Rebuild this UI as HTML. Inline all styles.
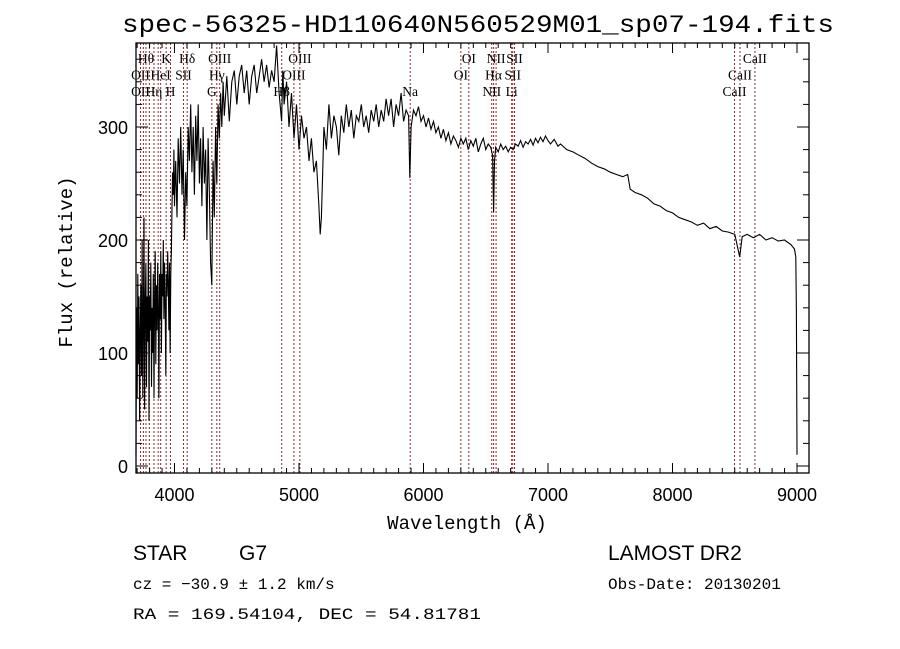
<!DOCTYPE html>
<html><head><meta charset="utf-8"><style>
html,body{margin:0;padding:0;background:#fff;}
svg{display:block;}
text{font-family:"Liberation Serif",serif;fill:#000;}
</style></head><body>
<svg id="chart" width="900" height="649" viewBox="0 0 900 649" xmlns="http://www.w3.org/2000/svg">
<rect width="900" height="649" fill="#fff"/>
<text x="478" y="32" font-size="25" text-anchor="middle" textLength="712" lengthAdjust="spacingAndGlyphs" style="font-family:'Liberation Mono',monospace">spec-56325-HD110640N560529M01_sp07-194.fits</text>
<g id="lines"></g>
<g id="labels"></g>
<path id="spec" fill="none" stroke="#000" stroke-width="1.1"/>
<rect x="136" y="43" width="673" height="430" fill="none" stroke="#000" stroke-width="1.3"/>
<g id="axes"></g>
<text x="467" y="529" font-size="19" text-anchor="middle" style="font-family:'Liberation Mono',monospace">Wavelength (Å)</text>
<text transform="translate(72,262) rotate(-90)" font-size="19" text-anchor="middle" style="font-family:'Liberation Mono',monospace">Flux (relative)</text>
<text x="133" y="560" font-size="21" style="font-family:'Liberation Sans',sans-serif">STAR</text>
<text x="239" y="560" font-size="21" style="font-family:'Liberation Sans',sans-serif">G7</text>
<text x="133" y="589" font-size="16" style="font-family:'Liberation Mono',monospace">cz = −30.9 ± 1.2 km/s</text>
<text x="133" y="619" font-size="16" textLength="348" lengthAdjust="spacingAndGlyphs" style="font-family:'Liberation Mono',monospace">RA = 169.54104, DEC =  54.81781</text>
<text x="608" y="560" font-size="21" style="font-family:'Liberation Sans',sans-serif">LAMOST DR2</text>
<text x="608" y="589" font-size="16" style="font-family:'Liberation Mono',monospace">Obs-Date: 20130201</text>
</svg>
<script>
const wl=[3691,3695,3700,3705,3710,3715,3720,3725,3730,3735,3740,3745,3750,3755,3760,3765,3770,3775,3780,3785,3790,3795,3800,3805,3810,3815,3820,3825,3830,3835,3840,3845,3850,3855,3860,3865,3870,3875,3880,3885,3890,3895,3900,3905,3910,3915,3920,3925,3930,3935,3940,3945,3950,3955,3960,3965,3970,3975,3980,3985,3990,3995,4000,4010,4020,4030,4040,4050,4060,4070,4080,4090,4100,4110,4120,4130,4140,4150,4160,4170,4180,4190,4200,4210,4220,4230,4240,4250,4260,4270,4280,4290,4300,4310,4320,4330,4340,4350,4360,4370,4380,4390,4400,4420,4440,4460,4480,4500,4520,4540,4560,4580,4600,4620,4640,4660,4680,4700,4720,4740,4760,4780,4800,4820,4840,4860,4870,4880,4900,4920,4940,4960,4980,5000,5020,5040,5060,5080,5100,5120,5140,5160,5170,5180,5190,5200,5220,5240,5260,5280,5300,5320,5340,5360,5380,5400,5420,5440,5460,5480,5500,5520,5540,5560,5580,5600,5620,5640,5660,5680,5700,5720,5740,5760,5780,5800,5820,5840,5860,5880,5890,5900,5920,5940,5960,5980,6000,6020,6040,6060,6080,6100,6120,6140,6160,6180,6200,6220,6240,6260,6280,6300,6320,6340,6360,6380,6400,6420,6440,6460,6480,6500,6520,6540,6555,6563,6570,6580,6600,6620,6640,6660,6680,6700,6720,6740,6760,6780,6800,6820,6840,6860,6880,6900,6920,6940,6960,6980,7000,7020,7050,7080,7100,7150,7200,7250,7300,7350,7400,7450,7500,7550,7600,7640,7660,7700,7750,7800,7850,7900,7950,8000,8050,8100,8150,8200,8250,8300,8350,8400,8450,8500,8540,8560,8600,8650,8700,8750,8800,8850,8900,8950,8980,8990,8995,9000];
const flux=[10,140,60,170,90,150,40,120,160,80,200,60,130,220,50,140,180,70,150,110,200,40,150,120,180,70,140,100,170,60,150,190,90,160,120,180,140,60,170,130,190,100,170,150,200,130,180,140,80,170,150,190,160,120,180,100,170,190,230,260,240,280,230,270,220,290,250,300,240,280,200,260,230,300,270,320,260,300,240,310,270,320,250,290,230,300,250,280,200,290,240,180,160,270,220,300,250,320,290,330,300,340,310,345,305,340,350,320,345,355,330,350,320,345,355,330,345,360,340,355,335,350,340,372,330,305,350,320,340,300,330,290,320,280,310,290,300,270,290,260,270,230,205,220,260,300,280,320,290,310,300,275,310,295,320,300,315,290,310,305,320,300,310,295,315,305,320,300,315,305,325,310,325,300,320,310,330,305,315,310,255,300,315,310,318,305,310,300,308,298,305,295,300,290,298,288,295,285,292,288,282,290,285,290,280,288,283,290,278,285,290,280,285,282,275,225,270,282,278,285,280,283,278,282,280,285,283,288,282,287,285,289,284,290,286,291,287,292,288,285,289,283,285,280,278,275,272,268,265,263,260,258,256,258,245,242,240,237,232,230,226,224,220,218,216,213,215,210,212,208,207,205,185,203,205,202,205,200,202,199,200,196,192,185,135,10];
const lineWl=[3727,3750,3771,3798,3835,3869,3889,3933,3968,4072,4102,4300,4340,4363,4861,4959,5007,5893,6300,6364,6548,6563,6583,6708,6717,6731,8498,8542,8662];
const labelText=["Hθ","K","Hδ","OIII","OIII","OI","NII","SII","CaII","OII","HeI","SII","Hγ","OIII","OI","Hα","SII","CaII","OII","Hη","H","G","Hβ","Na","NII","Li","CaII"];
const labelWl=[3771,3933,4102,4363,5007,6364,6583,6731,8662,3727,3889,4072,4340,4959,6300,6563,6717,8542,3727,3835,3968,4300,4861,5893,6548,6708,8498];
const labelRow=[0,0,0,0,0,0,0,0,0,1,1,1,1,1,1,1,1,1,2,2,2,2,2,2,2,2,2];
const xTicks=[4000,5000,6000,7000,8000,9000];
const yTicks=[0,100,200,300];
const X0=136,X1=809,Y0=473,Y1=43;
const xs=v=>174.5+(v-4000)*0.1245;
const ys=v=>466-v*1.13;
const NS="http://www.w3.org/2000/svg";
function mk(t,a){const e=document.createElementNS(NS,t);for(const k in a)e.setAttribute(k,a[k]);return e;}
const lg=document.getElementById('lines');
lineWl.forEach(w=>{const x=xs(w);const l=mk('line',{x1:x,x2:x,y1:Y1,y2:Y0,stroke:'#8b2a2a','stroke-width':1,'stroke-dasharray':'2,2'});


lg.appendChild(l);});
const lb=document.getElementById('labels');
labelText.forEach((t,i)=>{const e=mk('text',{x:xs(labelWl[i]),y:63+labelRow[i]*16.5,'font-size':13.5,'text-anchor':'middle'});e.textContent=t;


lb.appendChild(e);});
let d='';
wl.forEach((w,i)=>{const y=Math.max(Y1,Math.min(Y0,ys(flux[i])));d+=(i?'L':'M')+xs(w).toFixed(1)+','+y.toFixed(1);});
document.getElementById('spec').setAttribute('d',d);
const ax=document.getElementById('axes');
for(let v=3700;v<=9100;v+=100){const x=xs(v);if(x<X0||x>X1)continue;const L=(v%1000===0)?10:5;
ax.appendChild(mk('line',{x1:x,x2:x,y1:Y0,y2:Y0-L,stroke:'#000'}));
ax.appendChild(mk('line',{x1:x,x2:x,y1:Y1,y2:Y1+L,stroke:'#000'}));}
xTicks.forEach(v=>{const e=mk('text',{x:xs(v),y:501,'font-size':18,'text-anchor':'middle',style:"font-family:'Liberation Sans',sans-serif"});e.textContent=v;


ax.appendChild(e);});
for(let v=0;v<=370;v+=20){const y=ys(v);if(y<Y1)continue;const L=(v%100===0)?12:6;
ax.appendChild(mk('line',{x1:X0,x2:X0+L,y1:y,y2:y,stroke:'#000'}));
ax.appendChild(mk('line',{x1:X1,x2:X1-L,y1:y,y2:y,stroke:'#000'}));}
yTicks.forEach(v=>{const e=mk('text',{x:128,y:ys(v)+7,'font-size':18,'text-anchor':'end',style:"font-family:'Liberation Sans',sans-serif"});e.textContent=v;


ax.appendChild(e);});
</script>
</body></html>
